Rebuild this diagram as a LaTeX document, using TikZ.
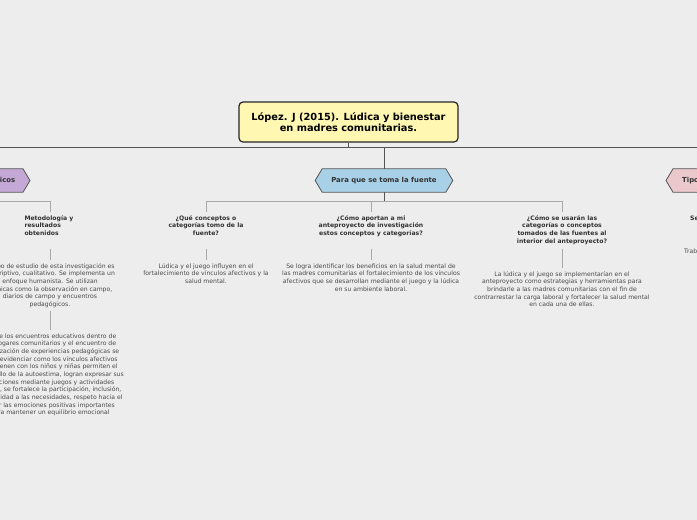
\documentclass[tikz,border=0pt]{standalone}
\usepackage{fontspec}
\setmainfont{DejaVu Sans}
\usetikzlibrary{backgrounds,calc}
\definecolor{bgc}{HTML}{EDEDED}
\definecolor{rootfill}{HTML}{FFF7B2}
\definecolor{hexblue}{HTML}{A8D0E6}
\definecolor{hexpurple}{HTML}{C4A9D6}
\definecolor{hexpink}{HTML}{EBC8CB}
\definecolor{trunkc}{HTML}{555555}
\definecolor{branchc}{HTML}{A8A8A8}
\definecolor{titlec}{HTML}{333333}
\definecolor{bodyc}{HTML}{4A4A4A}
\newcommand\hexframe[2]{\begin{pgfonlayer}{background}\filldraw[hexline,fill=#2] (#1.west) -- ([xshift=7pt]#1.north west) -- ([xshift=-7pt]#1.north east) -- (#1.east) -- ([xshift=-7pt]#1.south east) -- ([xshift=7pt]#1.south west) -- cycle;\end{pgfonlayer}}
\newcommand\ttlbox[2]{\parbox[t][31pt][t]{#1}{\centering\rule{0pt}{5pt}#2}}
\tikzset{
  rootbox/.style={draw=black!85, line width=1.2pt, fill=rootfill, rounded corners=4pt,
    minimum width=219pt, minimum height=40pt, align=center, inner sep=0pt,
    font=\bfseries\fontsize{9.8}{10.9}\selectfont, text=black},
  hexbox/.style={font=\bfseries\fontsize{6.9}{8}\selectfont, text=titlec,
    inner xsep=16pt, inner ysep=0pt, minimum height=23pt},
  hexline/.style={draw=trunkc, line width=0.8pt},
  ttl/.style={font=\bfseries\fontsize{6.1}{7.65}\selectfont, text=titlec,
    inner xsep=0pt, inner ysep=3pt, anchor=north},
  body/.style={font=\fontsize{6.1}{7.65}\selectfont, text=bodyc, align=center,
    inner xsep=0pt, inner ysep=3pt, anchor=north},
  trunk/.style={draw=trunkc, line width=0.9pt},
  branch/.style={draw=branchc, line width=0.9pt}
}
\begin{document}
\begin{tikzpicture}[x=1pt, y=-1pt]
\useasboundingbox (0,0) rectangle (697,520);
\begin{pgfonlayer}{background}
\fill[bgc] (0,0) rectangle (697,520);
\end{pgfonlayer}
\clip (0,0) rectangle (697,520);

% root
\node[rootbox] (root) at (348.5,122) {López. J (2015). Lúdica y bienestar\\en madres comunitarias.};

% main hexagons
\node[hexbox] (hexc) at (384,180.5) {Para que se toma la fuente};
\hexframe{hexc}{hexblue}
\node[hexbox, anchor=east, inner xsep=14.5pt] (hexl) at (30,180.5) {Aspectos metodológicos};
\hexframe{hexl}{hexpurple}
\node[hexbox, anchor=west] (hexr) at (666,180.5) {Tipo de fuente};
\hexframe{hexr}{hexpink}

% titles
\node[ttl] (t1) at (50,212) {\parbox[t][31pt][t]{51pt}{\raggedright\rule{0pt}{5pt}Metodología y\\resultados\\obtenidos}};
\node[ttl] (t2) at (206,212) {\ttlbox{100pt}{¿Qué conceptos o\\categorías tomo de la\\fuente?}};
\node[ttl] (t3) at (371,212) {\ttlbox{120pt}{¿Cómo aportan a mi\\anteproyecto de investigación\\estos conceptos y categorías?}};
\node[ttl] (t4) at (562,212) {\ttlbox{110pt}{¿Cómo se usarán las\\categorías o conceptos\\tomados de las fuentes al\\interior del anteproyecto?}};
\node[ttl, anchor=north west] (t6) at (690,212) {\rule{0pt}{5pt}Secundaria};

% bodies
\node[body] (b1) at (50,260) {\rule{0pt}{5pt}El tipo de estudio de esta investigación es\\descriptivo, cualitativo. Se implementa un\\enfoque humanista. Se utilizan\\técnicas como la observación en campo,\\diarios de campo y encuentros\\pedagógicos.};
\node[body] (b2) at (50,330) {\rule{0pt}{5pt}Desde los encuentros educativos dentro de\\los hogares comunitarios y el encuentro de\\socialización de experiencias pedagógicas se\\logra evidenciar como los vínculos afectivos\\que tienen con los niños y niñas permiten el\\desarrollo de la autoestima, logran expresar sus\\emociones mediante juegos y actividades\\lúdicas, se fortalece la participación, inclusión,\\sensibilidad a las necesidades, respeto hacia el\\tener las emociones positivas importantes\\para mantener un equilibrio emocional};
\node[body] (b3) at (206,260) {\rule{0pt}{5pt}Lúdica y el juego influyen en el\\fortalecimiento de vínculos afectivos y la\\salud mental.};
\node[body] (b4) at (371,260) {\rule{0pt}{5pt}Se logra identificar los beneficios en la salud mental de\\las madres comunitarias el fortalecimiento de los vínculos\\afectivos que se desarrollan mediante el juego y la lúdica\\en su ambiente laboral.};
\node[body] (b5) at (562,268) {\rule{0pt}{5pt}La lúdica y el juego se implementarían en el\\anteproyecto como estrategias y herramientas para\\brindarle a las madres comunitarias con el fin de\\contrarrestar la carga laboral y fortalecer la salud mental\\en cada una de ellas.};
\node[body, anchor=north west] (b6) at (684,245) {\rule{0pt}{5pt}Trabajo de grado};

% connectors
\coordinate (tl) at (0,147);
\coordinate (tr) at (697,147);
\draw[trunk] (tl) -- (tr);
\draw[trunk] (root.south) -- (root.south |- tl);
\draw[trunk] (hexc.north) -- (hexc.north |- tl);
\draw[trunk] (hexl.north) -- (hexl.north |- tl);
\draw[trunk] (hexr.north) -- (hexr.north |- tl);
\draw[trunk] (hexc.south) -- ++(0,9.5) coordinate (cbr);
\draw[trunk] (hexl.south) -- ++(0,9.5) coordinate (lbr);
\draw[branch] (cbr) -| (t2.north);
\draw[branch] (cbr) -| (t3.north);
\draw[branch] (cbr) -| (t4.north);
\draw[branch] (lbr) -| (t1.north);
\draw[branch] (t1.south) -- (b1.north);
\draw[branch] (b1.south) -- (b2.north);
\draw[branch] (t2.south) -- (b3.north);
\draw[branch] (t3.south) -- (b4.north);
\draw[branch] (t4.south) -- (b5.north);
\end{tikzpicture}
\end{document}
